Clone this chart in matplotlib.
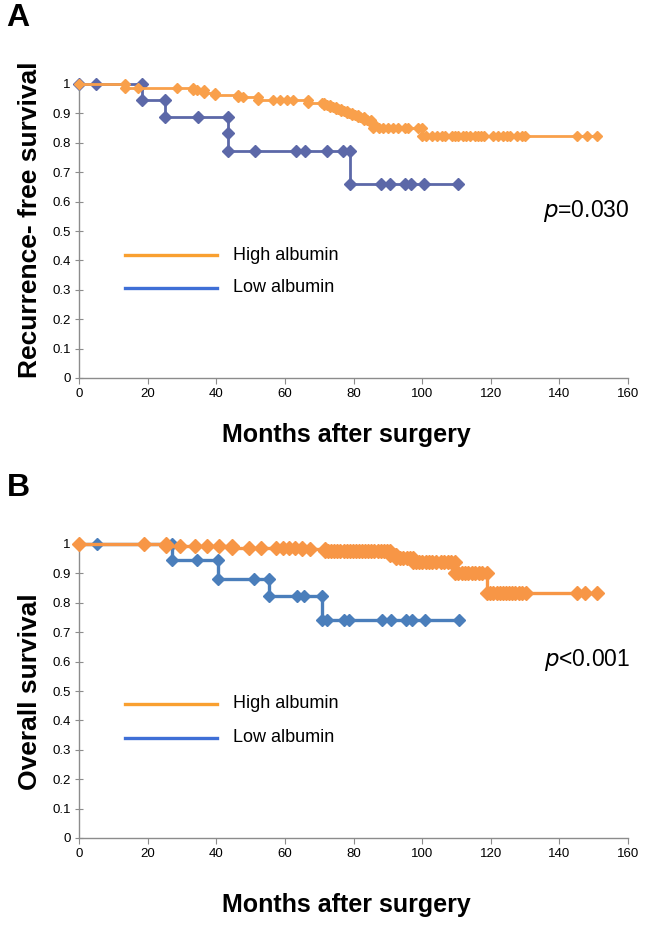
import matplotlib
matplotlib.use("Agg")
import matplotlib.pyplot as plt

plt.rcParams['font.family'] = ['Liberation Sans', 'DejaVu Sans']

# ---- panel A: recurrence-free survival (vertices)
a_high_t = [0, 13.4, 13.4, 17.2, 28.5, 33.3, 33.3, 34.3, 36.4, 36.4, 39.6, 39.6,
            46.4, 46.4, 47.9, 52.2, 52.2, 56.6, 58.6, 60.5, 62.5, 66.8, 66.8, 70.7,
            71.5, 71.5, 72.4, 73.2, 73.2, 74.0, 74.8, 74.8, 75.6, 76.4, 76.4, 77.2,
            78.0, 78.0, 78.8, 79.6, 79.6, 80.4, 81.2, 81.2, 82.0, 83.0, 83.0, 84.0,
            85.0, 85.0, 85.8, 85.8, 87.3, 88.7, 90.2, 91.6, 93.1, 95.0, 96.0, 98.9,
            99.9, 99.9, 101.2, 102.8, 104.3, 105.7, 106.7, 108.6, 109.6, 110.6, 111.9,
            112.8, 114.0, 115.4, 116.4, 117.3, 118.0, 120.7, 122.2, 123.6, 124.6,
            125.6, 127.6, 129.0, 130.0, 145.1, 148.0, 150.9]
a_high_s = [1.0, 1.0, 0.986, 0.986, 0.986, 0.986, 0.978, 0.978, 0.978, 0.971, 0.971, 0.963,
            0.963, 0.955, 0.955, 0.955, 0.946, 0.946, 0.946, 0.946, 0.946, 0.946, 0.937, 0.937,
            0.937, 0.930, 0.930, 0.930, 0.923, 0.923, 0.923, 0.916, 0.916, 0.916, 0.909, 0.909,
            0.909, 0.902, 0.902, 0.902, 0.894, 0.894, 0.894, 0.887, 0.887, 0.887, 0.878, 0.878,
            0.878, 0.866, 0.866, 0.849, 0.849, 0.849, 0.849, 0.849, 0.849, 0.849, 0.849, 0.849,
            0.849, 0.824, 0.824, 0.824, 0.824, 0.824, 0.824, 0.824, 0.824, 0.824, 0.824,
            0.824, 0.824, 0.824, 0.824, 0.824, 0.824, 0.824, 0.824, 0.824, 0.824,
            0.824, 0.824, 0.824, 0.824, 0.824, 0.824, 0.824]

a_low_t = [0, 5, 18.3, 18.3, 25, 25, 34.6, 43.4, 43.4, 43.4, 51.3, 63.2, 65.9, 72.2,
           76.9, 79, 79, 87.9, 90.6, 95, 96.8, 100.6, 110.6]
a_low_s = [1.0, 1.0, 1.0, 0.944, 0.944, 0.889, 0.889, 0.889, 0.833, 0.772, 0.772, 0.772,
           0.772, 0.772, 0.772, 0.772, 0.66, 0.66, 0.66, 0.66, 0.66, 0.66, 0.66]

# ---- panel B: overall survival
b_high_t = [0, 18.8, 25.4, 25.4, 29.4, 33.8, 37.2, 40.9, 44.5, 44.5, 49.4, 53.1, 57.4,
            59.4, 61.3, 63.0, 65.0, 65.0, 67.3, 71.7, 71.7, 72.6, 73.5, 74.4, 75.3,
            76.2, 77.1, 78.0, 78.9, 79.8, 80.7, 81.6, 82.5, 83.4, 84.3, 85.2, 86.1,
            87.0, 87.9, 88.8, 89.7, 90.7, 90.7, 91.8, 92.5, 92.5, 93.5, 94.5, 95.5,
            96.5, 97.2, 97.2, 98.2, 99.0, 100.0, 101.0, 102.0, 103.0, 104.0, 105.5,
            106.5, 107.5, 108.5, 109.6, 109.6, 110.5, 111.5, 112.5, 113.5, 114.5,
            115.5, 116.5, 117.5, 118.9, 118.9, 119.8, 120.8, 121.8, 122.6, 123.5,
            124.4, 125.3, 126.2, 127.2, 128.2, 129.2, 130.2, 145.1, 147.5, 150.9]
b_high_s = [1.0, 1.0, 1.0, 0.994, 0.994, 0.994, 0.994, 0.994, 0.994, 0.988, 0.988, 0.988, 0.988,
            0.988, 0.988, 0.988, 0.988, 0.982, 0.982, 0.982, 0.976, 0.976, 0.976, 0.976, 0.976,
            0.976, 0.976, 0.976, 0.976, 0.976, 0.976, 0.976, 0.976, 0.976, 0.976, 0.976, 0.976,
            0.976, 0.976, 0.976, 0.976, 0.976, 0.963, 0.963, 0.963, 0.951, 0.951, 0.951, 0.951,
            0.951, 0.951, 0.938, 0.938, 0.938, 0.938, 0.938, 0.938, 0.938, 0.938, 0.938,
            0.938, 0.938, 0.938, 0.938, 0.900, 0.900, 0.900, 0.900, 0.900, 0.900,
            0.900, 0.900, 0.900, 0.900, 0.834, 0.834, 0.834, 0.834, 0.834, 0.834,
            0.834, 0.834, 0.834, 0.834, 0.834, 0.834, 0.834, 0.834, 0.834, 0.834]

b_low_t = [0, 5.3, 27.2, 27.2, 34.3, 40.4, 40.4, 51.1, 55.5, 55.5, 63.5, 65.7, 70.8, 70.8,
           72.2, 77.1, 78.8, 88.2, 90.9, 95.3, 97.0, 100.7, 110.8]
b_low_s = [1.0, 1.0, 1.0, 0.944, 0.944, 0.944, 0.882, 0.882, 0.882, 0.822, 0.822, 0.822,
           0.822, 0.741, 0.741, 0.741, 0.741, 0.741, 0.741, 0.741, 0.741, 0.741, 0.741]

x_ticks = [0, 20, 40, 60, 80, 100, 120, 140, 160]
y_ticks = [0, 0.1, 0.2, 0.3, 0.4, 0.5, 0.6, 0.7, 0.8, 0.9, 1.0]
y_ticklabels = ['0', '0.1', '0.2', '0.3', '0.4', '0.5', '0.6', '0.7', '0.8', '0.9', '1']

panels = [
    dict(letter='A', ylabel='Recurrence- free survival', pval='=0.030',
         high=(a_high_t, a_high_s), low=(a_low_t, a_low_s),
         high_col='#F9A04B', low_col='#5C68A8', hi_ms=5.0, lo_ms=6.5, lw=2.0),
    dict(letter='B', ylabel='Overall survival', pval='<0.001',
         high=(b_high_t, b_high_s), low=(b_low_t, b_low_s),
         high_col='#F79646', low_col='#4A7EBB', hi_ms=7.0, lo_ms=6.5, lw=2.4),
]

fig = plt.figure(figsize=(6.57, 9.34), dpi=100)
W, H = 657, 934

boxes = [(79, 84, 628, 378), (79, 544, 628, 838)]
leg_y = [(255, 288), (704, 738)]
pv_y = [211, 660]
xl_y = [435, 905]
yl_y = [220, 692]
let_y = [18, 488]

for p, (x0, y0, x1, y1), (ly1, ly2), py, xly, yly, lety in zip(panels, boxes, leg_y, pv_y, xl_y, yl_y, let_y):
    ax = fig.add_axes([x0 / W, 1 - y1 / H, (x1 - x0) / W, (y1 - y0) / H])
    ax.plot(p['high'][0], p['high'][1], color=p['high_col'], lw=p['lw'], marker='D',
            ms=p['hi_ms'], clip_on=False, zorder=3)
    ax.plot(p['low'][0], p['low'][1], color=p['low_col'], lw=p['lw'], marker='D',
            ms=p['lo_ms'], clip_on=False, zorder=2)
    ax.set_xlim(0, 160)
    ax.set_ylim(0, 1)
    ax.set_xticks(x_ticks)
    ax.set_yticks(y_ticks)
    ax.set_yticklabels(y_ticklabels)
    for s in ['top', 'right']:
        ax.spines[s].set_visible(False)
    for s in ['left', 'bottom']:
        ax.spines[s].set_color('#8C8C8C')
        ax.spines[s].set_linewidth(1.0)
    ax.tick_params(axis='both', direction='out', length=4, color='#8C8C8C',
                   labelsize=9.5, pad=3)
    ax.tick_params(axis='y', direction='inout', length=6)

    # legend drawn by hand, like the original Excel chart
    ax.plot([0.084, 0.251], [(y1 - ly1) / (y1 - y0)] * 2, transform=ax.transAxes,
            color='#F9A030', lw=2.4, clip_on=False)
    ax.plot([0.084, 0.251], [(y1 - ly2) / (y1 - y0)] * 2, transform=ax.transAxes,
            color='#3F6FD6', lw=2.4, clip_on=False)
    ax.text(0.28, (y1 - ly1) / (y1 - y0), 'High albumin', transform=ax.transAxes,
            fontsize=13, va='center')
    ax.text(0.28, (y1 - ly2) / (y1 - y0), 'Low albumin', transform=ax.transAxes,
            fontsize=13, va='center')
    ax.text(1.003, (y1 - py) / (y1 - y0), '$\\it{p}$' + p['pval'], transform=ax.transAxes,
            fontsize=16.5, va='center', ha='right')

    fig.text(346 / W, 1 - xly / H, 'Months after surgery', fontsize=18,
             fontweight='bold', ha='center', va='center')
    fig.text(30 / W, 1 - yly / H, p['ylabel'], fontsize=19, fontweight='bold',
             rotation=90, ha='center', va='center')
    fig.text(18 / W, 1 - lety / H, p['letter'], fontsize=23, fontweight='bold',
             ha='center', va='center')

fig.savefig('out.png', dpi=100)
